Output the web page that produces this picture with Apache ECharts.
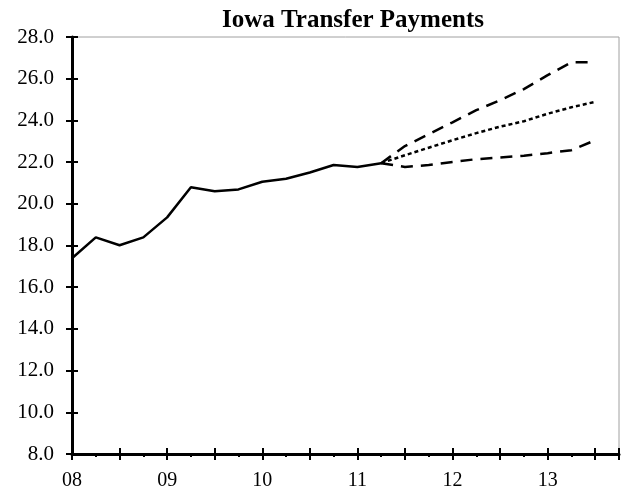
<!DOCTYPE html>
<html>
<head>
<meta charset="utf-8">
<script src="https://cdn.jsdelivr.net/npm/echarts@6/dist/echarts.min.js"></script>
<style>
html,body{margin:0;padding:0;background:#fff;}
#chart{width:625px;height:495px;}
</style>
</head>
<body>
<div id="chart"></div>
<script>
// Quarterly index: 0 = 2008 Q1
var yearLabels = ['08', '09', '10', '11', '12', '13'];
var actual = [17.39, 18.39, 18.01, 18.39, 19.35, 20.79, 20.60, 20.69, 21.06, 21.20, 21.50, 21.86, 21.77, 21.95];
var forecastStart = 13; // 2011 Q2
var forecastHigh = [21.95, 22.77, 23.34, 23.91, 24.49, 24.97, 25.50, 26.17, 26.79, 26.79];
var forecastMid  = [21.95, 22.33, 22.69, 23.05, 23.39, 23.70, 23.96, 24.32, 24.63, 24.89];
var forecastLow  = [21.95, 21.77, 21.86, 22.01, 22.14, 22.22, 22.31, 22.43, 22.57, 23.05];
var yTicks = [8, 28, 2];

function toPairs(arr, start) {
  return arr.map(function (v, i) { return [start + i, v]; });
}

var chart = echarts.init(document.getElementById('chart'), null, {renderer: 'canvas'});
var FONT = '"Liberation Serif", "Times New Roman", serif';

var lineBase = {
  type: 'line', symbol: 'none', smooth: false, silent: true,
  xAxisIndex: 0, yAxisIndex: 0, z: 3
};

chart.setOption({
  animation: false,
  backgroundColor: '#ffffff',
  title: {
    text: 'Iowa Transfer Payments',
    left: 348, top: 3, textAlign: 'center',
    textStyle: {fontFamily: FONT, fontWeight: 'bold', fontSize: 25, color: '#000'}
  },
  grid: {
    left: 72, right: 6, top: 37, bottom: 41,
    show: true, borderColor: '#a0a0a0', borderWidth: 1, backgroundColor: 'transparent'
  },
  xAxis: [{
    type: 'value', min: 0, max: 23, interval: 2,
    axisLine: {show: true, onZero: false, lineStyle: {color: '#000', width: 3}},
    axisTick: {show: true, inside: false, length: 6, lineStyle: {color: '#000', width: 2}},
    minorTick: {show: true, splitNumber: 2, length: 3, lineStyle: {color: '#000', width: 2}},
    splitLine: {show: false},
    axisLabel: {
      show: true, margin: 17, color: '#000', fontFamily: FONT, fontSize: 20,
      showMaxLabel: false,
      formatter: function (v) { return (v % 4 === 0) ? yearLabels[v / 4] : ''; }
    }
  }, {
    type: 'value', min: 0, max: 23, interval: 2, position: 'bottom',
    axisLine: {show: false, onZero: false},
    axisTick: {show: true, inside: true, length: 6, lineStyle: {color: '#000', width: 2}},
    axisLabel: {show: false}, splitLine: {show: false}
  }],
  yAxis: [{
    type: 'value', min: yTicks[0], max: yTicks[1], interval: yTicks[2],
    axisLine: {show: true, onZero: false, lineStyle: {color: '#000', width: 3}},
    axisTick: {show: true, inside: false, length: 6, lineStyle: {color: '#000', width: 2}},
    splitLine: {show: false},
    axisLabel: {
      show: true, margin: 18, color: '#000', fontFamily: FONT, fontSize: 21,
      formatter: function (v) { return v.toFixed(1); }
    }
  }, {
    type: 'value', min: yTicks[0], max: yTicks[1], interval: yTicks[2], position: 'left',
    axisLine: {show: false, onZero: false},
    axisTick: {show: true, inside: true, length: 6, lineStyle: {color: '#000', width: 2}},
    axisLabel: {show: false}, splitLine: {show: false}
  }],
  series: [
    Object.assign({}, lineBase, {
      name: 'Actual', data: toPairs(actual, 0),
      lineStyle: {color: '#000', width: 2.5, type: 'solid'}
    }),
    Object.assign({}, lineBase, {
      name: 'High', data: toPairs(forecastHigh, forecastStart),
      lineStyle: {color: '#000', width: 2.5, type: [12, 8]}
    }),
    Object.assign({}, lineBase, {
      name: 'Baseline', data: toPairs(forecastMid, forecastStart),
      lineStyle: {color: '#000', width: 2.5, type: [4, 3]}
    }),
    Object.assign({}, lineBase, {
      name: 'Low', data: toPairs(forecastLow, forecastStart),
      lineStyle: {color: '#000', width: 2.5, type: [12, 8]}
    })
  ]
});
</script>
</body>
</html>
